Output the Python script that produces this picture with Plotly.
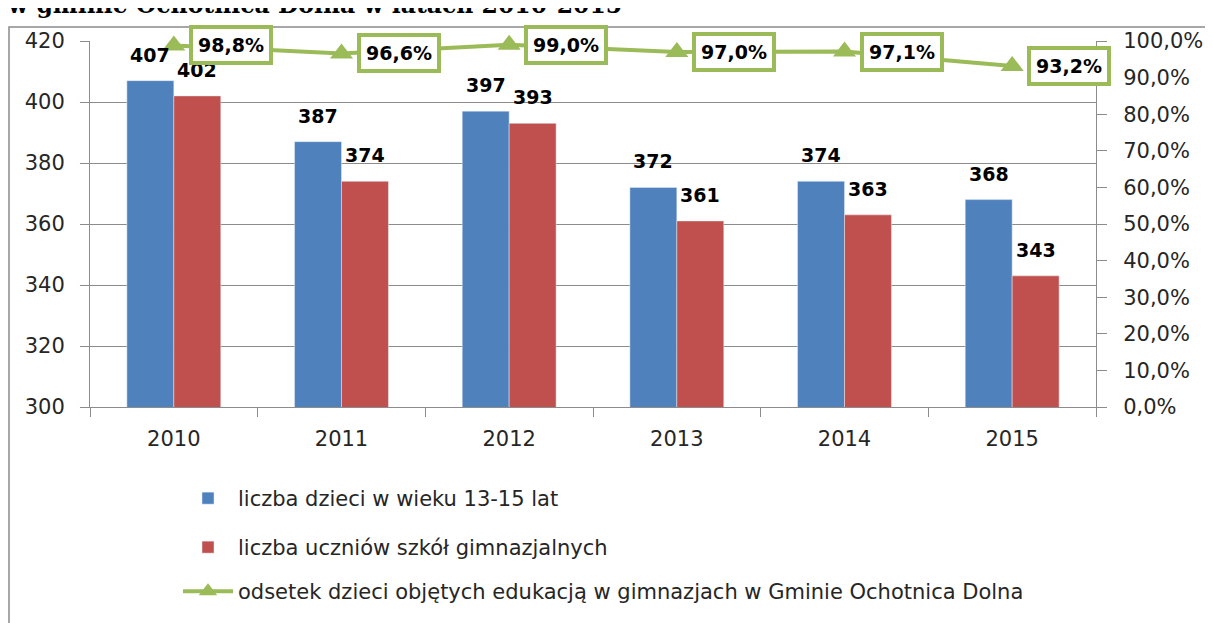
import plotly.graph_objects as go

# ── Data ─────────────────────────────────────────────
years = ["2010", "2011", "2012", "2013", "2014", "2015"]
children_13_15 = [407, 387, 397, 372, 374, 368]
gym_students = [402, 374, 393, 361, 363, 343]
coverage_pct = [0.988, 0.966, 0.990, 0.970, 0.971, 0.932]

name_children = "liczba dzieci w wieku 13-15 lat"
name_students = "liczba uczniów szkół gimnazjalnych"
name_coverage = "odsetek dzieci objętych edukacją w gimnazjach w Gminie Ochotnica Dolna"
title_text = "w gminie Ochotnica Dolna w latach 2010-2015"

BLUE = "#4F81BD"
RED = "#C0504D"
GREEN = "#9BBB59"
GRID = "#8C8C8C"
FONT = "DejaVu Sans"

# the page body adds an 8px margin, so the figure starts at (8, 8) in the window
OFF = 8
W, H = 1213 - OFF, 623 - OFF
L, R, T, B = 90 - OFF, 117, 41 - OFF, 623 - 408
PW, PH = W - L - R, H - T - B
PLOT_X, PLOT_Y0 = 90, 408  # plot area left / bottom in window pixels


def px_x(sx):
    return (sx - PLOT_X) / PW


def px_y(sy):
    return (PLOT_Y0 - sy) / PH


fig = go.Figure()

fig.add_trace(go.Bar(
    x=years, y=children_13_15, name=name_children,
    marker_color=BLUE, legend="legend",
))
fig.add_trace(go.Bar(
    x=years, y=gym_students, name=name_students,
    marker_color=RED, legend="legend2",
))
fig.add_trace(go.Scatter(
    x=years, y=coverage_pct, name=name_coverage, yaxis="y2",
    mode="lines+markers", legend="legend3",
    line=dict(color=GREEN, width=4),
    marker=dict(symbol="triangle-up", size=20, color=GREEN),
    cliponaxis=False,
))

# bar value labels (x given as category index)
annotations = []
for series, shift in ((children_13_15, -23.5), (gym_students, 23.5)):
    for i, v in enumerate(series):
        annotations.append(dict(
            x=i, y=v, xref="x", yref="y", text=f"<b>{v}</b>",
            showarrow=False, xshift=shift, yshift=13, yanchor="bottom",
            font=dict(family=FONT, size=19, color="#000000"),
        ))

# percentage labels in boxes
for i, p in enumerate(coverage_pct):
    annotations.append(dict(
        x=i, y=p, xref="x", yref="y2",
        text="<b>" + f"{p * 100:.1f}".replace(".", ",") + "%</b>",
        showarrow=False, xshift=57,
        bgcolor="white", bordercolor=GREEN, borderwidth=4, borderpad=5,
        font=dict(family=FONT, size=19, color="#000000"),
    ))

# cut-off title at the top edge
annotations.append(dict(
    x=px_x(5), y=px_y(21), xref="paper", yref="paper",
    xanchor="left", yanchor="bottom", showarrow=False, text=f"<b>{title_text}</b>",
    font=dict(family="DejaVu Serif", size=23.5, color="#000000"),
))


# one small legend per series, stacked below the plot
def legend_box(center_y):
    return dict(
        x=px_x(178), y=px_y(center_y - 19), xanchor="left", yanchor="top",
        orientation="v", itemwidth=50, bgcolor="rgba(0,0,0,0)",
        font=dict(family=FONT, size=21, color="#262626"),
    )


fig.update_layout(
    width=W, height=H,
    margin=dict(l=L, r=R, t=T, b=B),
    paper_bgcolor="white", plot_bgcolor="white",
    separators=", ",
    barmode="group", bargap=0.44, bargroupgap=0,
    font=dict(family=FONT, size=21, color="#262626"),
    showlegend=True,
    legend=legend_box(497),
    legend2=legend_box(546),
    legend3=legend_box(590),
    xaxis=dict(
        type="category", range=[-0.5, len(years) - 0.5], automargin=False,
        showline=True, linecolor=GRID, linewidth=1,
        ticks="outside", tickson="boundaries", ticklen=9, tickcolor=GRID,
        ticklabelstandoff=13, showgrid=False, tickangle=0,
    ),
    yaxis=dict(
        range=[300, 420], dtick=20, showline=True, linecolor=GRID, automargin=False,
        ticks="outside", ticklen=9, tickcolor=GRID, ticklabelstandoff=11,
        showgrid=True, gridcolor=GRID, gridwidth=1, zeroline=False,
    ),
    yaxis2=dict(
        range=[0, 1], dtick=0.1, tickformat=".1%", overlaying="y", side="right",
        showline=True, linecolor=GRID, ticks="outside", ticklen=10, tickcolor=GRID,
        ticklabelstandoff=12, showgrid=False, zeroline=False, automargin=False,
    ),
    annotations=annotations,
    shapes=[dict(
        type="rect", xref="paper", yref="paper",
        x0=px_x(9), x1=px_x(1240),
        y0=px_y(650), y1=px_y(27),
        line=dict(color="#8A8A8A", width=1.5), fillcolor="rgba(0,0,0,0)",
        layer="below",
    )],
)

fig.write_html("out.html")
